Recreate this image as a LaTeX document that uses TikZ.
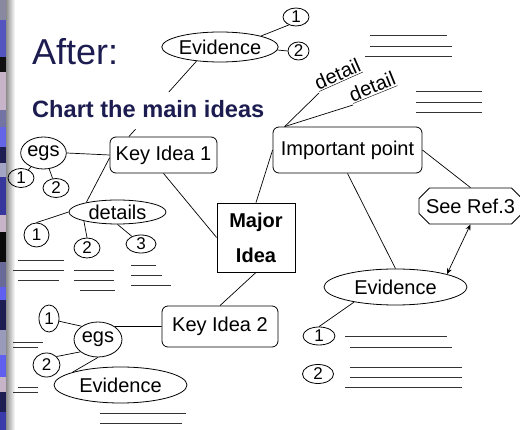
\documentclass[tikz,border=0pt]{standalone}
\usepackage{fontspec}
\setmainfont{Liberation Sans}
\usetikzlibrary{shapes.geometric,shapes.misc,arrows.meta,calc}
\definecolor{navy}{HTML}{1C1C50}
\tikzset{
  ft/.style={font=\fontsize{20}{24}\selectfont},
  fnum/.style={font=\fontsize{17}{20}\selectfont},
  rbox/.style={draw, rounded corners=6pt, inner sep=0pt, ft, line width=0.8pt},
  ell/.style={ellipse, draw, inner sep=0pt, ft, line width=0.8pt},
  num/.style={ellipse, draw, inner sep=0pt, fnum, line width=0.8pt},
  conn/.style={line width=0.7pt},
  rule/.style={line width=0.8pt, black!80},
}
\begin{document}
\begin{tikzpicture}[x=1pt,y=-1pt]
\useasboundingbox (0,0) rectangle (520,430);
% left decorative strip
\foreach \ya/\yb/\col in {0/20/8888A0,20/57/5454C0,57/72/101010,72/110/C8B4C8,110/127/7474A4,127/147/6464E6,147/163/1E1E52,163/177/A4A4C4,177/215/36369C,215/232/C8B4C8,232/262/0A0A0A,262/287/6A6A98,287/300/6060F0,300/330/1E1E52,330/355/9A9ABA,355/377/6060F0,377/392/C8B4C8,392/412/1E1E52,412/430/3A3AAA}{
  \definecolor{bandc}{HTML}{\col}
  \fill[bandc] (0,\ya) rectangle (6.5,\yb);
}
\shade[left color=black!45, right color=white] (6,0) rectangle (15,430);

% title
\node[anchor=base west, inner sep=0pt, text=navy, font=\fontsize{36}{40}\selectfont] (after) at (32,65) {After:};

% nodes
\node[ell, minimum width=116pt, minimum height=30pt] (evT) at (220,47) {Evidence};
\node[num, minimum width=26pt, minimum height=18pt] (n1T) at (296,17) {1};
\node[num, minimum width=21pt, minimum height=18pt] (n2T) at (298.5,51) {2};

\node[rbox, minimum width=107pt, minimum height=36pt] (kid1) at (163.5,155) {Key Idea 1};
\node[ell, minimum width=41pt, minimum height=32pt] (egs1) at (43.5,153) {egs};
\node[num, minimum width=26pt, minimum height=19pt] (c1a) at (21,178) {1};
\node[num, minimum width=26pt, minimum height=19pt] (c2a) at (56,188) {2};
\node[ell, minimum width=97pt, minimum height=24pt] (det) at (117.5,212) {details};
\node[num, minimum width=25pt, minimum height=24pt] (d1) at (36.5,235) {1};
\node[num, minimum width=26pt, minimum height=20pt] (d2) at (87,248) {2};
\node[num, minimum width=30pt, minimum height=18pt] (d3) at (141,244) {3};

\node[draw, line width=0.8pt, minimum width=78pt, minimum height=69pt, inner sep=0pt, align=center, font=\bfseries\fontsize{20}{35}\selectfont] (maj) at (256,237.5) {Major\\Idea};

\node[rbox, minimum width=149pt, minimum height=46pt] (imp) at (347.5,150) {Important point};
\node[chamfered rectangle, chamfered rectangle xsep=7pt, draw, line width=0.8pt, inner sep=0pt, ft, minimum width=97pt, minimum height=36pt] (refs) at (470.5,206) {See Ref.3};
\node[ell, minimum width=143pt, minimum height=36pt] (evR) at (395.5,287) {Evidence};
\node[num, minimum width=32pt, minimum height=18pt] (r1) at (319,336) {1};
\node[num, minimum width=31pt, minimum height=19pt] (r2) at (318,374) {2};

\node[rbox, minimum width=116pt, minimum height=41pt] (kid2) at (220,326.5) {Key Idea 2};
\node[ell, minimum width=48pt, minimum height=35pt] (egs2) at (98,339.5) {egs};
\node[num, minimum width=20pt, minimum height=27pt] (e1b) at (49,318.5) {1};
\node[num, minimum width=27pt, minimum height=24pt] (e2b) at (46.5,365) {2};
\node[ell, minimum width=133pt, minimum height=36pt] (evB) at (120.5,385) {Evidence};

% detail labels
\coordinate (impc) at ($(imp.north west)+(12,0)$);
\node[rotate=24, anchor=south west, inner sep=0.5pt, ft] (dt1) at (319,93) {\underline{detail}};
\node[rotate=22, anchor=south west, inner sep=0.5pt, ft] (dt2) at (353,105) {\underline{detail}};

% connectors
\draw[conn] (evT.15) -- (n1T.228);
\draw[conn] (evT.-3) -- (n2T.west);
\draw[conn] (kid1.152) -- (evT.211);
\draw[conn] (kid1.west) -- (egs1.east);
\draw[conn] (egs1) -- (c1a);
\draw[conn] (egs1) -- (c2a);
\draw[conn] (kid1.183) -- (det.163);
\draw[conn] (det.west) -- (d1.north);
\draw[conn] (det.195) -- (d2.north);
\draw[conn] (det.south) -- (d3.140);
\draw[conn] (kid1.south) -- (maj.west);
\draw[conn] (maj.north) -- (imp.west);
\draw[conn] (maj.south) -- (kid2.north);
\draw[conn] (kid2.west) -- (egs2.38);
\draw[conn] (egs2.141) -- (e1b.-15);
\draw[conn] (egs2.215) -- (e2b.40);
\draw[conn] (egs2.south) -- (evB.165);
\draw[conn] (impc) -- (dt1.south west);
\draw[conn] (impc) -- (dt2.south west);
\draw[conn] (imp.east) -- (refs.north);
\draw[conn] (imp.south) -- (evR.north);
\draw[conn, {Stealth[length=6pt,width=5pt]}-{Stealth[length=6pt,width=5pt]}] (refs.south) -- (evR.14);
\draw[conn] (evR.200) -- (r1.north);

% subtitle covering part of the line
\node[anchor=base west, inner xsep=0pt, inner ysep=6pt, text height=20pt, text depth=5pt, fill=white, text=navy, font=\bfseries\fontsize{23.6}{26}\selectfont] (chart) at (32,118) {Chart the main ideas};

% writing lines
\foreach \xa/\xb/\y in {370/447/35,370/452/46,365/452/56,
  416/482/91,416/482/102,416/482/112,
  18/64/260,13/64/270,18/59/280,
  74/114/270,74/114/280,80/115/290,
  131/156/265,131/162/275,131/171/285,
  13/43/342,13/38/347,18/38/387,13/38/392,
  100/186/413,100/182/423,
  345/447/336,350/452/347,350/462/367,350/462/377,345/462/387}{
  \draw[rule] (\xa,\y) -- (\xb,\y);
}
\end{tikzpicture}
\end{document}
